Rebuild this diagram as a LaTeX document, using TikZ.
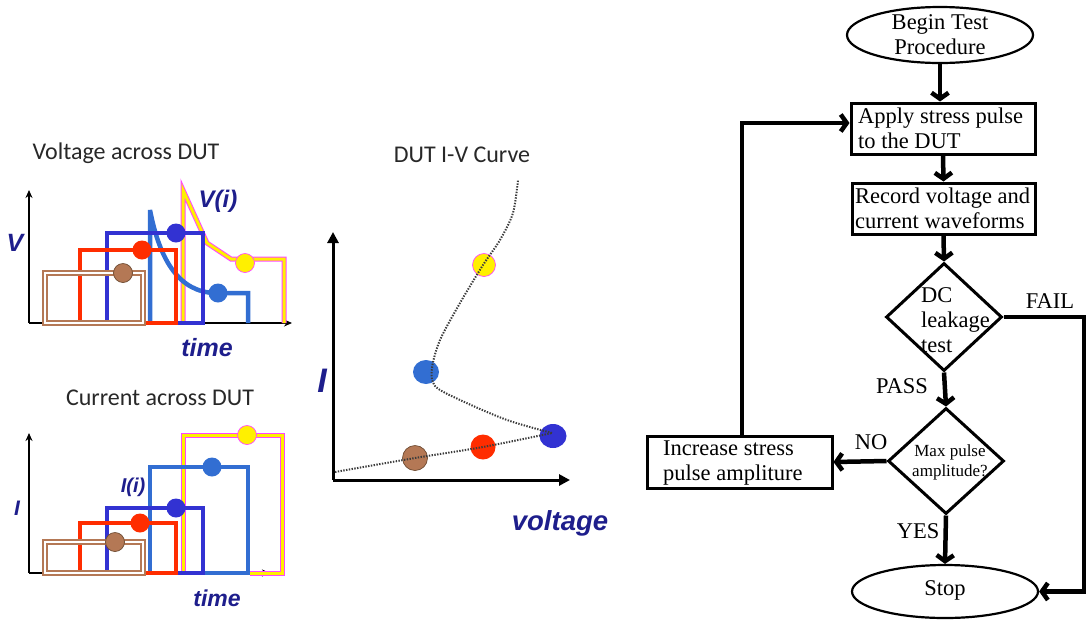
\documentclass[tikz,border=0pt]{standalone}
\usepackage{fontspec}
\setmainfont{Liberation Serif}
\newfontfamily\calib{Carlito}
\newfontfamily\arialf{Liberation Sans}
\usetikzlibrary{shapes.geometric,arrows.meta}
\definecolor{navyl}{RGB}{30,30,140}
\definecolor{titlec}{RGB}{40,40,40}
\definecolor{brn}{RGB}{180,120,85}
\definecolor{brnd}{RGB}{110,75,50}
\definecolor{redp}{RGB}{255,45,0}
\definecolor{dblue}{RGB}{50,50,210}
\definecolor{lblue}{RGB}{50,110,210}
\definecolor{yel}{RGB}{255,240,0}
\definecolor{mag}{RGB}{255,70,255}
\definecolor{dotc}{RGB}{60,60,60}
\begin{document}
\begin{tikzpicture}[x=1pt,y=-1pt,
  flow/.style={line width=4.5pt,-{Straight Barb[length=6pt,width=17pt]}},
  box/.style={draw,line width=3pt,rectangle,inner sep=0pt},
  oval/.style={draw,line width=2.2pt,ellipse,inner sep=0pt},
  dia/.style={draw,line width=3pt,diamond,inner sep=0pt},
  ftext/.style={font=\fontsize{22.5}{25}\selectfont,align=left,inner sep=0pt},
  title/.style={font=\calib\fontsize{24}{26}\selectfont,text=titlec,inner sep=0pt},
  axlab/.style={font=\arialf\bfseries\itshape\fontsize{#1}{#1}\selectfont,text=navyl,inner sep=0pt},
  axis/.style={line width=1.8pt,-{Stealth[length=8pt,width=7pt]}},
  bigaxis/.style={line width=3pt,-{Triangle[length=11pt,width=11pt]}},
  pulse/.style={line width=4.5pt},
  brownp/.style={draw=brn,double=white,line width=2pt,double distance=1.2pt},
  yellowp/.style={draw=mag,double=yel,line width=1pt,double distance=3pt},
  curve/.style={line width=2pt,dash pattern=on 1.4pt off 1.4pt,draw=dotc}
]
\useasboundingbox (0,0) rectangle (1086,622);

% ================= Voltage plot =================
\node[title] (vtitle) at (126,153) {Voltage across DUT};
\draw[axis] (29,323) -- (29,190);
\draw[axis] (29,323) -- (292,323);
\draw[yellowp] (183,323) -- (183,190) -- (207,243) -- (231,259) -- (284,259) -- (284,323);
\draw[pulse,lblue] (150,323) -- (150,210) .. controls (160,262) and (180,292) .. (215,293) -- (248,293) -- (248,323);
\draw[pulse,dblue] (107,323) -- (107,233) -- (203,233) -- (203,323) -- cycle;
\draw[pulse,redp] (80,323) -- (80,250) -- (176,250) -- (176,323) -- cycle;
\draw[brownp] (45,273) rectangle (143,323);
\fill[brn,draw=brnd,line width=0.7pt] (123,273) circle (9.5);
\fill[redp] (142,250) circle (9.5);
\fill[dblue] (176,233) circle (9.5);
\fill[lblue] (218,293) circle (9.5);
\fill[yel,draw=mag,line width=0.7pt] (245,263) circle (9.5);
\node[axlab=25] (vlab) at (15,243) {V};
\node[axlab=24] (vilab) at (218,201) {V(i)};
\node[axlab=25] (vtime) at (207,348) {time};

% ================= Current plot =================
\node[title] (ititle) at (160,398) {Current across DUT};
\draw[axis] (29,573) -- (29,433);
\draw[axis] (29,573) -- (270,573);
\draw[yellowp] (250,573) -- (282,573) -- (282,435) -- (183,435) -- (183,573);
\draw[pulse,lblue] (150,573) -- (150,467) -- (248,467) -- (248,573) -- cycle;
\draw[pulse,dblue] (107,573) -- (107,508) -- (203,508) -- (203,573) -- cycle;
\draw[pulse,redp] (80,573) -- (80,523) -- (176,523) -- (176,573) -- cycle;
\draw[brownp] (45,542) rectangle (143,573);
\fill[brn,draw=brnd,line width=0.7pt] (115,542) circle (9.5);
\fill[redp] (140,523) circle (9.5);
\fill[dblue] (176,508) circle (9.5);
\fill[lblue] (212,467) circle (9.5);
\fill[yel,draw=mag,line width=0.7pt] (247,435) circle (9.5);
\node[axlab=21] (ilab) at (17,508) {I};
\node[axlab=20] (iilab) at (133,487) {I(i)};
\node[axlab=23] (itime) at (217,598) {time};

% ================= I-V curve =================
\node[title] (ivtitle) at (462,155) {DUT I-V Curve};
\draw[bigaxis] (333,480) -- (333,232);
\draw[bigaxis] (333,480) -- (570,480);
\fill[brn,draw=brnd,line width=0.7pt] (415,458) circle (12.5);
\fill[redp] (483,447) circle (12.5);
\fill[dblue] (553,436) ellipse (13.5 and 12);
\fill[lblue] (426,372) ellipse (13 and 12);
\fill[yel,draw=mag,line width=0.7pt] (484,265) circle (11.5);
\draw[curve] plot[smooth] coordinates {(335,472) (415,458) (483,447) (552,433)};
\draw[curve] plot[smooth] coordinates {(552,433) (507,420) (460,400) (435,386) (432,368) (440,340) (460,303) (483,265) (500,240) (513,213) (518,180)};
\node[axlab=34] (ivi) at (322,381) {I};
\node[axlab=27.5] (ivv) at (560,523) {voltage};

% ================= Flowchart =================
\node[oval,minimum width=186pt,minimum height=56pt] (begin) at (940,35) {};
\node[ftext,align=center] (begint) at (940,35) {Begin Test\\Procedure};
\node[box,minimum width=184pt,minimum height=51pt] (apply) at (943,128.5) {};
\node[ftext,anchor=west] (applyt) at (858,128.5) {Apply stress pulse\\to the DUT};
\node[box,minimum width=183pt,minimum height=51pt] (record) at (943.5,208.5) {};
\node[ftext,anchor=west] (recordt) at (855,208.5) {Record voltage and\\current waveforms};
\node[dia,minimum width=116pt,minimum height=108pt] (dc) at (944,317) {};
\node[ftext,anchor=west] (dct) at (921,320) {DC\\leakage\\test};
\node[dia,minimum width=116pt,minimum height=106pt] (maxp) at (946,461) {};
\node[font=\fontsize{17}{20}\selectfont,align=center,inner sep=0pt] (maxt) at (950,462) {Max pulse\\amplitude?};
\node[box,minimum width=185pt,minimum height=52pt] (inc) at (739.5,462) {};
\node[ftext,anchor=west] (inct) at (663,463) {Increase stress\\pulse ampliture};
\node[oval,minimum width=186pt,minimum height=53pt] (stop) at (945,591.5) {};
\node[ftext] (stopt) at (945,590) {Stop};

\coordinate (loop) at (742,123);
\coordinate (failx) at (1084,318);

\draw[flow] (begin.south) -- (begin.south |- apply.north);
\draw[flow] (apply.south) -- (record.north);
\draw[flow] (record.south) -- (dc.north);
\draw[flow] (dc.south) -- (maxp.north);
\draw[flow] (maxp.south) -- (stop.north);
\draw[flow] (maxp.west) -- (inc.east);
\draw[flow] (inc.north -| loop) -- (loop) -- (apply.west |- loop);
\draw[flow] (dc.east) -- (dc.east -| failx) -- (failx |- stop.east) -- (stop.east);

\node[ftext] (fail) at (1050,301) {FAIL};
\node[ftext] (pass) at (902,386) {PASS};
\node[ftext] (no) at (871,442) {NO};
\node[ftext] (yes) at (918,531) {YES};
\end{tikzpicture}
\end{document}
